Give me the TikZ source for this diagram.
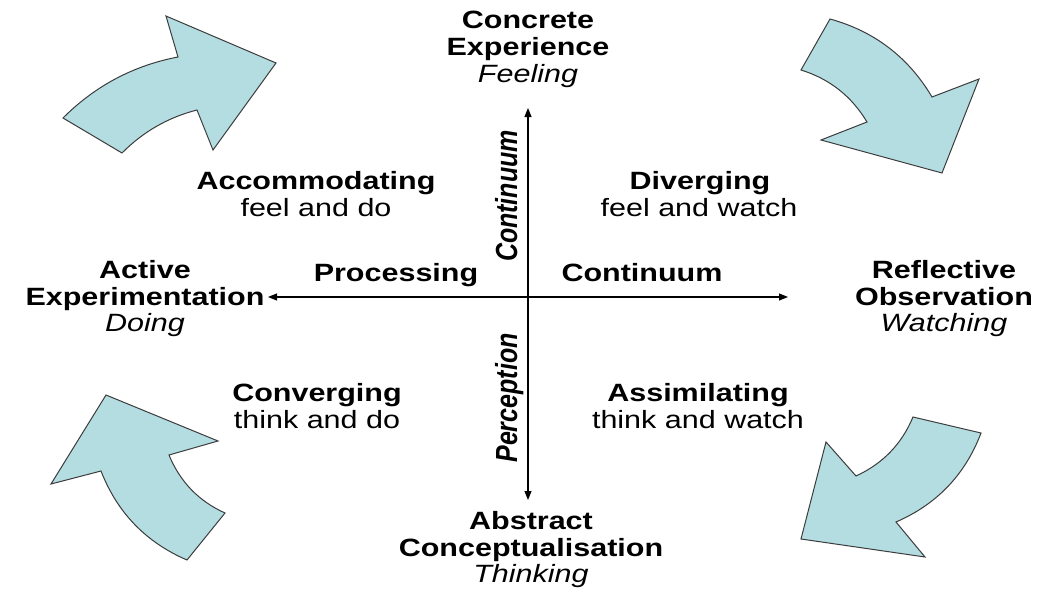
\documentclass[tikz,border=0pt]{standalone}
\usepackage{fontspec}
\setmainfont[FakeStretch=1.22]{Liberation Sans}
\newfontfamily\rotfont{Liberation Sans}
\usetikzlibrary{arrows.meta}
\definecolor{arrowfill}{RGB}{180,221,226}
\definecolor{arrowedge}{RGB}{60,60,60}
\tikzset{
  lbl/.style={anchor=base, inner sep=0pt, font=\fontsize{25}{30}\selectfont},
  hd/.style={lbl, font=\fontsize{25}{30}\selectfont\bfseries},
  it/.style={lbl, font=\fontsize{25}{30}\selectfont\itshape},
  rot/.style={anchor=base, inner sep=0pt, rotate=90, yscale=1.22, transform shape,
    font=\rotfont\fontsize{25}{30}\selectfont\bfseries\itshape},
  bent/.style={fill=arrowfill, draw=arrowedge, line width=1pt, line join=miter},
  axis/.style={line width=1.1pt, {Triangle[length=9pt,width=7pt]}-{Triangle[length=9pt,width=7pt]}}
}
\begin{document}
\begin{tikzpicture}[x=1pt,y=-1pt]
\useasboundingbox[fill=white] (0,0) rectangle (1037,594);

% curved block arrows
\draw[bent] (63,118) -- (122,153) .. controls (143,131.8) and (168,117.4) .. (197,110)
  -- (213,150) -- (276,63) -- (166,16) -- (178,57)
  .. controls (133.5,65.5) and (95.1,85.9) .. (63,118) -- cycle;
\draw[bent] (830,19) -- (801,70) .. controls (829.6,78.9) and (851.6,96.3) .. (867,122)
  -- (821,140) -- (942,173) -- (979,79) -- (932,97)
  .. controls (908.5,57.3) and (874.5,31.3) .. (830,19) -- cycle;
\draw[bent] (225,513) -- (187,560) .. controls (145.9,542.3) and (117.3,512.7) .. (101,471)
  -- (51,484) -- (106,395) -- (218,441) -- (169,455)
  .. controls (180,481.7) and (198.6,501.1) .. (225,513) -- cycle;
\draw[bent] (913,417) -- (981,433) .. controls (965.2,474.7) and (936.8,504.3) .. (896,522)
  -- (925,557) -- (801,539) -- (826,442) -- (856,476)
  .. controls (882.7,463.7) and (901.7,444.1) .. (913,417) -- cycle;

% axes
\coordinate (L) at (268,297);
\coordinate (R) at (788,297);
\coordinate (T) at (528,108);
\coordinate (B) at (528,500);
\draw[axis] (L) -- (R);
\draw[axis] (B) -- (T);

% labels
\node[hd] (ce1) at (528,29) {Concrete};
\node[hd] (ce2) at (528,56) {Experience};
\node[it] (ce3) at (528,83) {Feeling};

\node[hd] (acc1) at (316,189) {Accommodating};
\node[lbl] (acc2) at (316,216) {feel and do};

\node[hd] (div1) at (700,189) {Diverging};
\node[lbl] (div2) at (699,216) {feel and watch};

\node[hd] (ae1) at (145,278) {Active};
\node[hd] (ae2) at (145,305) {Experimentation};
\node[it] (ae3) at (145,331) {Doing};

\node[hd] (ro1) at (944,278) {Reflective};
\node[hd] (ro2) at (944,305) {Observation};
\node[it] (ro3) at (944,331) {Watching};

\node[hd] (proc) at (396,281) {Processing};
\node[hd] (cont) at (642,281) {Continuum};

\node[hd] (conv1) at (317,401) {Converging};
\node[lbl] (conv2) at (317,428) {think and do};

\node[hd] (ass1) at (698,401) {Assimilating};
\node[lbl] (ass2) at (698,428) {think and watch};

\node[hd] (ac1) at (531,529) {Abstract};
\node[hd] (ac2) at (531,556) {Conceptualisation};
\node[it] (ac3) at (531,582) {Thinking};

\node[rot] (vcont) at (517,196) {Continuum};
\node[rot] (perc) at (517,398) {Perception};
\end{tikzpicture}
\end{document}
